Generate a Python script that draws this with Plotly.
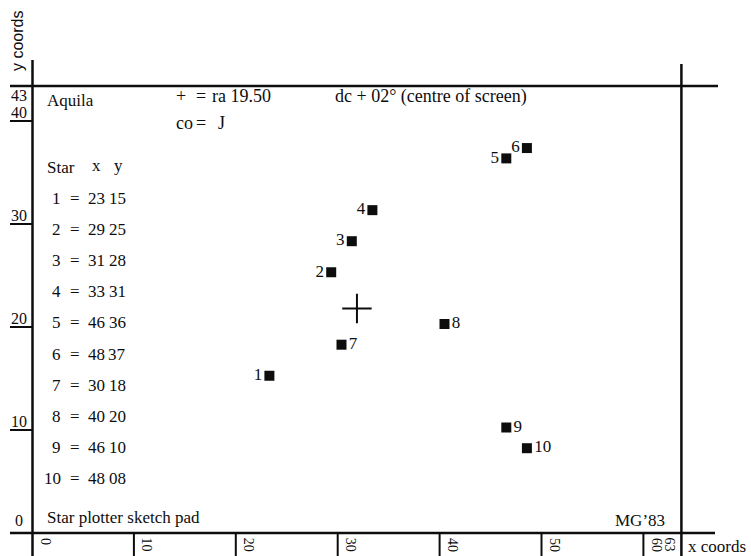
import plotly.graph_objects as go

W, H = 751, 556
INK = "#0d0d0d"
SERIF = "Liberation Serif, Times New Roman, serif"
SANS = "Liberation Sans, Arial, sans-serif"

# star table (screen coordinates)
STAR_IDS = [1, 2, 3, 4, 5, 6, 7, 8, 9, 10]
STAR_X = [23, 29, 31, 33, 46, 48, 30, 40, 46, 48]
STAR_Y = [15, 25, 28, 31, 36, 37, 18, 20, 10, 8]

# centre of screen marker
CENTRE_X = [31.5]
CENTRE_Y = [21.5]

SCREEN_X_MAX = 63
SCREEN_Y_MAX = 43

X_TICKS = [0, 10, 20, 30, 40, 50, 60, 63]
Y_TICKS = [0, 10, 20, 30, 40, 43]

LABEL_POS = ["middle left"] * 6 + ["middle right"] * 4


def px(x):
    return x / W


def py(y):
    return 1 - y / H


def note(text, x, y, size=17, xanchor="left", family=SERIF, angle=0):
    return dict(
        text=text, x=px(x), y=py(y), xref="paper", yref="paper",
        xanchor=xanchor, yanchor="middle", showarrow=False, textangle=angle,
        font=dict(family=family, size=size, color=INK),
    )


fig = go.Figure()

fig.add_trace(
    go.Scatter(
        x=STAR_X,
        y=STAR_Y,
        mode="markers+text",
        text=[str(i) for i in STAR_IDS],
        textposition=LABEL_POS,
        textfont=dict(family=SERIF, size=17, color=INK),
        marker=dict(symbol="square", size=10, color=INK),
        cliponaxis=False,
        hoverinfo="skip",
    )
)
fig.add_trace(
    go.Scatter(
        x=CENTRE_X,
        y=CENTRE_Y,
        mode="markers",
        marker=dict(symbol="cross-thin", size=21, line=dict(width=2, color=INK)),
        hoverinfo="skip",
    )
)
# ruler scale (printed ticks are spaced a little tighter than the screen)
fig.add_trace(
    go.Scatter(
        x=X_TICKS,
        y=[0] * len(X_TICKS),
        xaxis="x2",
        yaxis="y2",
        mode="markers",
        marker=dict(opacity=0),
        hoverinfo="skip",
    )
)

shapes = []
line = dict(color=INK, width=2.5)
# frame
shapes.append(dict(type="line", xref="x", yref="paper", x0=0, x1=0, y0=0, y1=py(60), line=line))
shapes.append(dict(type="line", xref="x", yref="paper", x0=SCREEN_X_MAX, x1=SCREEN_X_MAX,
                   y0=0, y1=py(64), line=line))
shapes.append(dict(type="line", xref="paper", yref="y", x0=px(10), x1=px(718),
                   y0=SCREEN_Y_MAX, y1=SCREEN_Y_MAX, line=line))
shapes.append(dict(type="line", xref="paper", yref="y2", x0=px(10), x1=px(715),
                   y0=0, y1=0, line=line))

annotations = []
# x ruler
for t in X_TICKS:
    if 0 < t < 63:
        shapes.append(dict(type="line", xref="x2", yref="paper", x0=t, x1=t,
                           y0=0, y1=py(533), line=dict(color=INK, width=2)))
    last = t == X_TICKS[-1]
    annotations.append(dict(
        text=str(t), x=t, y=0, xref="x2", yref="y2", textangle=90,
        xanchor="right" if last else "left", yanchor="top",
        xshift=6 if last else 4, yshift=-3, showarrow=False,
        font=dict(family=SERIF, size=14, color=INK),
    ))
# y ruler
for t in Y_TICKS:
    if 0 < t < 43:
        shapes.append(dict(type="line", xref="paper", yref="y2", x0=px(10), x1=px(32),
                           y0=t, y1=t, line=dict(color=INK, width=2)))
    top = t == Y_TICKS[-1]
    annotations.append(dict(
        text=str(t), x=px(19), y=t, xref="paper", yref="y2",
        xanchor="center", yanchor="top" if top else "bottom",
        yshift=5 if top else (2 if t == 0 else -2), showarrow=False,
        font=dict(family=SERIF, size=16, color=INK),
    ))

annotations.append(note("y coords", 18, 41, size=16, xanchor="center", family=SANS, angle=-90))
annotations.append(note("x coords", 686, 546, size=17))

# header
annotations.append(note("Aquila", 45, 100))
annotations.append(note("+", 174, 96, size=18))
annotations.append(note("=", 201, 96, size=18, xanchor="center"))
annotations.append(note("ra 19.50", 210, 96, size=18))
annotations.append(note("co", 174, 123, size=18))
annotations.append(note("=", 201, 123, size=18, xanchor="center"))
annotations.append(note("J", 216, 123, size=18))
annotations.append(note("dc + 02° (centre of screen)", 333, 96, size=18))

# star table
annotations.append(note("Star", 45, 167))
annotations.append(note("x", 96, 166, xanchor="center"))
annotations.append(note("y", 119, 166, xanchor="center"))
for i, (sid, sx, sy) in enumerate(zip(STAR_IDS, STAR_X, STAR_Y)):
    row_y = 198 + i * 31.2
    annotations.append(note(str(sid), 63, row_y, xanchor="right"))
    annotations.append(note("=", 75, row_y, xanchor="center"))
    annotations.append(note(f"{sx:02d}", 96.5, row_y, xanchor="center"))
    annotations.append(note(f"{sy:02d}", 117, row_y, xanchor="center"))

annotations.append(note("Star plotter sketch pad", 45, 517))
annotations.append(note("MG\u201983", 613, 520))

fig.update_layout(
    width=W,
    height=H,
    margin=dict(l=0, r=0, t=0, b=0),
    paper_bgcolor="white",
    plot_bgcolor="white",
    showlegend=False,
    xaxis=dict(range=[-32.5 / 10.3, (W - 32.5) / 10.3], visible=False, fixedrange=True),
    yaxis=dict(range=[(531 - H) / 10.35, 531 / 10.35], visible=False, fixedrange=True),
    xaxis2=dict(range=[-32 / 10.19, (W - 32) / 10.19], overlaying="x", visible=False),
    yaxis2=dict(range=[(533 - H) / 10.3, 533 / 10.3], overlaying="y", visible=False),
    shapes=shapes,
    annotations=annotations,
)

fig.write_html(
    "out.html",
    config={"displayModeBar": False},
    post_script="document.body.style.margin='0';",
)
